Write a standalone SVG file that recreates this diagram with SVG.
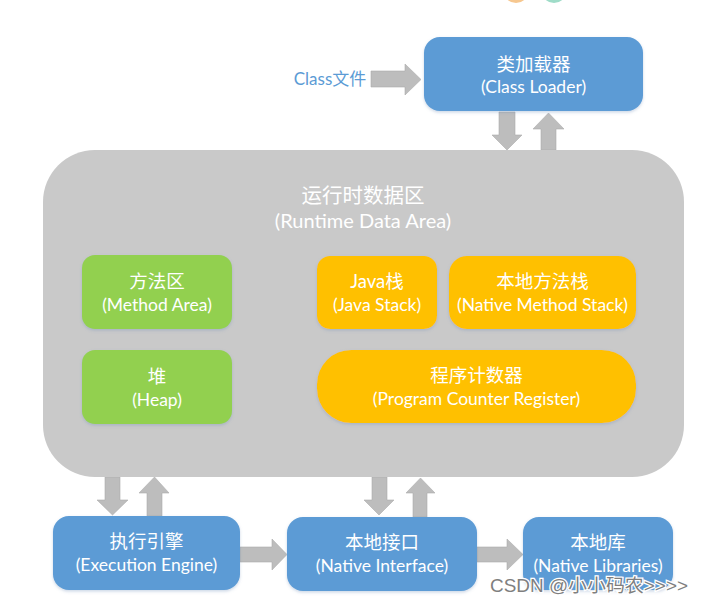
<svg xmlns="http://www.w3.org/2000/svg" width="703" height="605" viewBox="0 0 703 605">
<style>
  .t { font-family: Lato, "Open Sans", "Noto Sans CJK SC", sans-serif; fill: #ffffff; text-anchor: middle; }
  .zh { font-size: 18.5px; }
  .en { font-size: 17.5px; }
  .blue { fill: #5b9bd5; }
  .green { fill: #92d050; }
  .orange { fill: #ffc000; }
  .arrow { fill: #bdbdbd; stroke: #adadad; stroke-width: 0.6; }
</style>
<defs>
  <filter id="sh" x="-10%" y="-10%" width="120%" height="130%">
    <feDropShadow dx="0" dy="1.5" stdDeviation="1.5" flood-color="#6f8fb8" flood-opacity="0.35"/>
  </filter>
</defs>
<rect width="703" height="605" fill="#ffffff"/>
<!-- partial logo at top -->
<ellipse cx="516" cy="-8" rx="12" ry="11" fill="#f6c78f"/>
<ellipse cx="554" cy="-8" rx="12" ry="11" fill="#9fdcc8"/>

<g id="connectors">
  <path class="arrow" d="M371,71 H405 V64 L421,79.5 L405,95 V87 H371 Z"/>
  <path class="arrow" d="M499,112 H515 V135 H522 L507,150 L492,135 H499 Z"/>
  <path class="arrow" d="M541,150 V129 H533 L548.5,113 L564,129 H556 V150 Z"/>
  <path class="arrow" d="M105,477 H120 V500 H128 L112.5,515 L97,500 H105 Z"/>
  <path class="arrow" d="M147,516 V493 H139 L154.5,477 L169,493 H162 V516 Z"/>
  <path class="arrow" d="M372,477 H387 V500 H394 L379,515 L364,500 H372 Z"/>
  <path class="arrow" d="M413,517 V493 H406 L420.5,478 L435,493 H427 V517 Z"/>
  <path class="arrow" d="M240,547 H272 V539 L287,554.5 L272,570 V562 H240 Z"/>
  <path class="arrow" d="M477,547 H507 V539 L523,554.5 L507,570 V562 H477 Z"/>
</g>

<g id="class-file">
  <text x="330" y="85" font-family="Lato, 'Open Sans', 'Noto Sans CJK SC', sans-serif" font-size="17" fill="#5b9bd5" text-anchor="middle">Class文件</text>
</g>

<g id="class-loader">
  <rect x="424" y="37" width="219" height="74" rx="16" class="blue" filter="url(#sh)"/>
  <text x="533.5" y="71" class="t zh">类加载器</text>
  <text x="533.5" y="93" class="t en">(Class Loader)</text>
</g>

<g id="runtime-data-area">
  <rect x="43" y="150" width="641" height="327" rx="52" fill="#c9c9c9"/>
  <text x="363" y="203" class="t" font-size="20.5">运行时数据区</text>
  <text x="363" y="228" class="t" font-size="20">(Runtime Data Area)</text>
</g>

<g id="method-area">
  <rect x="82" y="255" width="150" height="74" rx="13" class="green" filter="url(#sh)"/>
  <text x="157" y="288" class="t zh">方法区</text>
  <text x="157" y="311" class="t en">(Method Area)</text>
</g>

<g id="heap">
  <rect x="82" y="350" width="150" height="74" rx="13" class="green" filter="url(#sh)"/>
  <text x="157" y="383" class="t zh">堆</text>
  <text x="157" y="406" class="t en">(Heap)</text>
</g>

<g id="java-stack">
  <rect x="317" y="256" width="120" height="73" rx="13" class="orange" filter="url(#sh)"/>
  <text x="377" y="288" class="t zh">Java栈</text>
  <text x="377" y="311" class="t en">(Java Stack)</text>
</g>

<g id="native-method-stack">
  <rect x="449" y="256" width="187" height="73" rx="18" class="orange" filter="url(#sh)"/>
  <text x="542.5" y="288" class="t zh">本地方法栈</text>
  <text x="542.5" y="311" class="t en">(Native Method Stack)</text>
</g>

<g id="program-counter-register">
  <rect x="317" y="350" width="319" height="73" rx="34" class="orange" filter="url(#sh)"/>
  <text x="476.5" y="382" class="t zh">程序计数器</text>
  <text x="476.5" y="405" class="t en">(Program Counter Register)</text>
</g>

<g id="execution-engine">
  <rect x="53" y="516" width="187" height="74" rx="16" class="blue" filter="url(#sh)"/>
  <text x="146.5" y="548" class="t zh">执行引擎</text>
  <text x="146.5" y="571" class="t en">(Execution Engine)</text>
</g>

<g id="native-interface">
  <rect x="287" y="517" width="190" height="74" rx="16" class="blue" filter="url(#sh)"/>
  <text x="382" y="549" class="t zh">本地接口</text>
  <text x="382" y="572" class="t en">(Native Interface)</text>
</g>

<g id="native-libraries">
  <rect x="523" y="517" width="150" height="73" rx="16" class="blue" filter="url(#sh)"/>
  <text x="598" y="549" class="t zh">本地库</text>
  <text x="598" y="572" class="t en">(Native Libraries)</text>
</g>

<g id="watermark">
  <text x="490" y="592" font-family="'Liberation Sans', 'Noto Sans CJK SC', sans-serif" font-size="18" fill="#7f7f7f" stroke="#ffffff" stroke-width="2.5" paint-order="stroke" textLength="198" lengthAdjust="spacingAndGlyphs">CSDN @小小码农&gt;&gt;&gt;&gt;</text>
</g>
</svg>
